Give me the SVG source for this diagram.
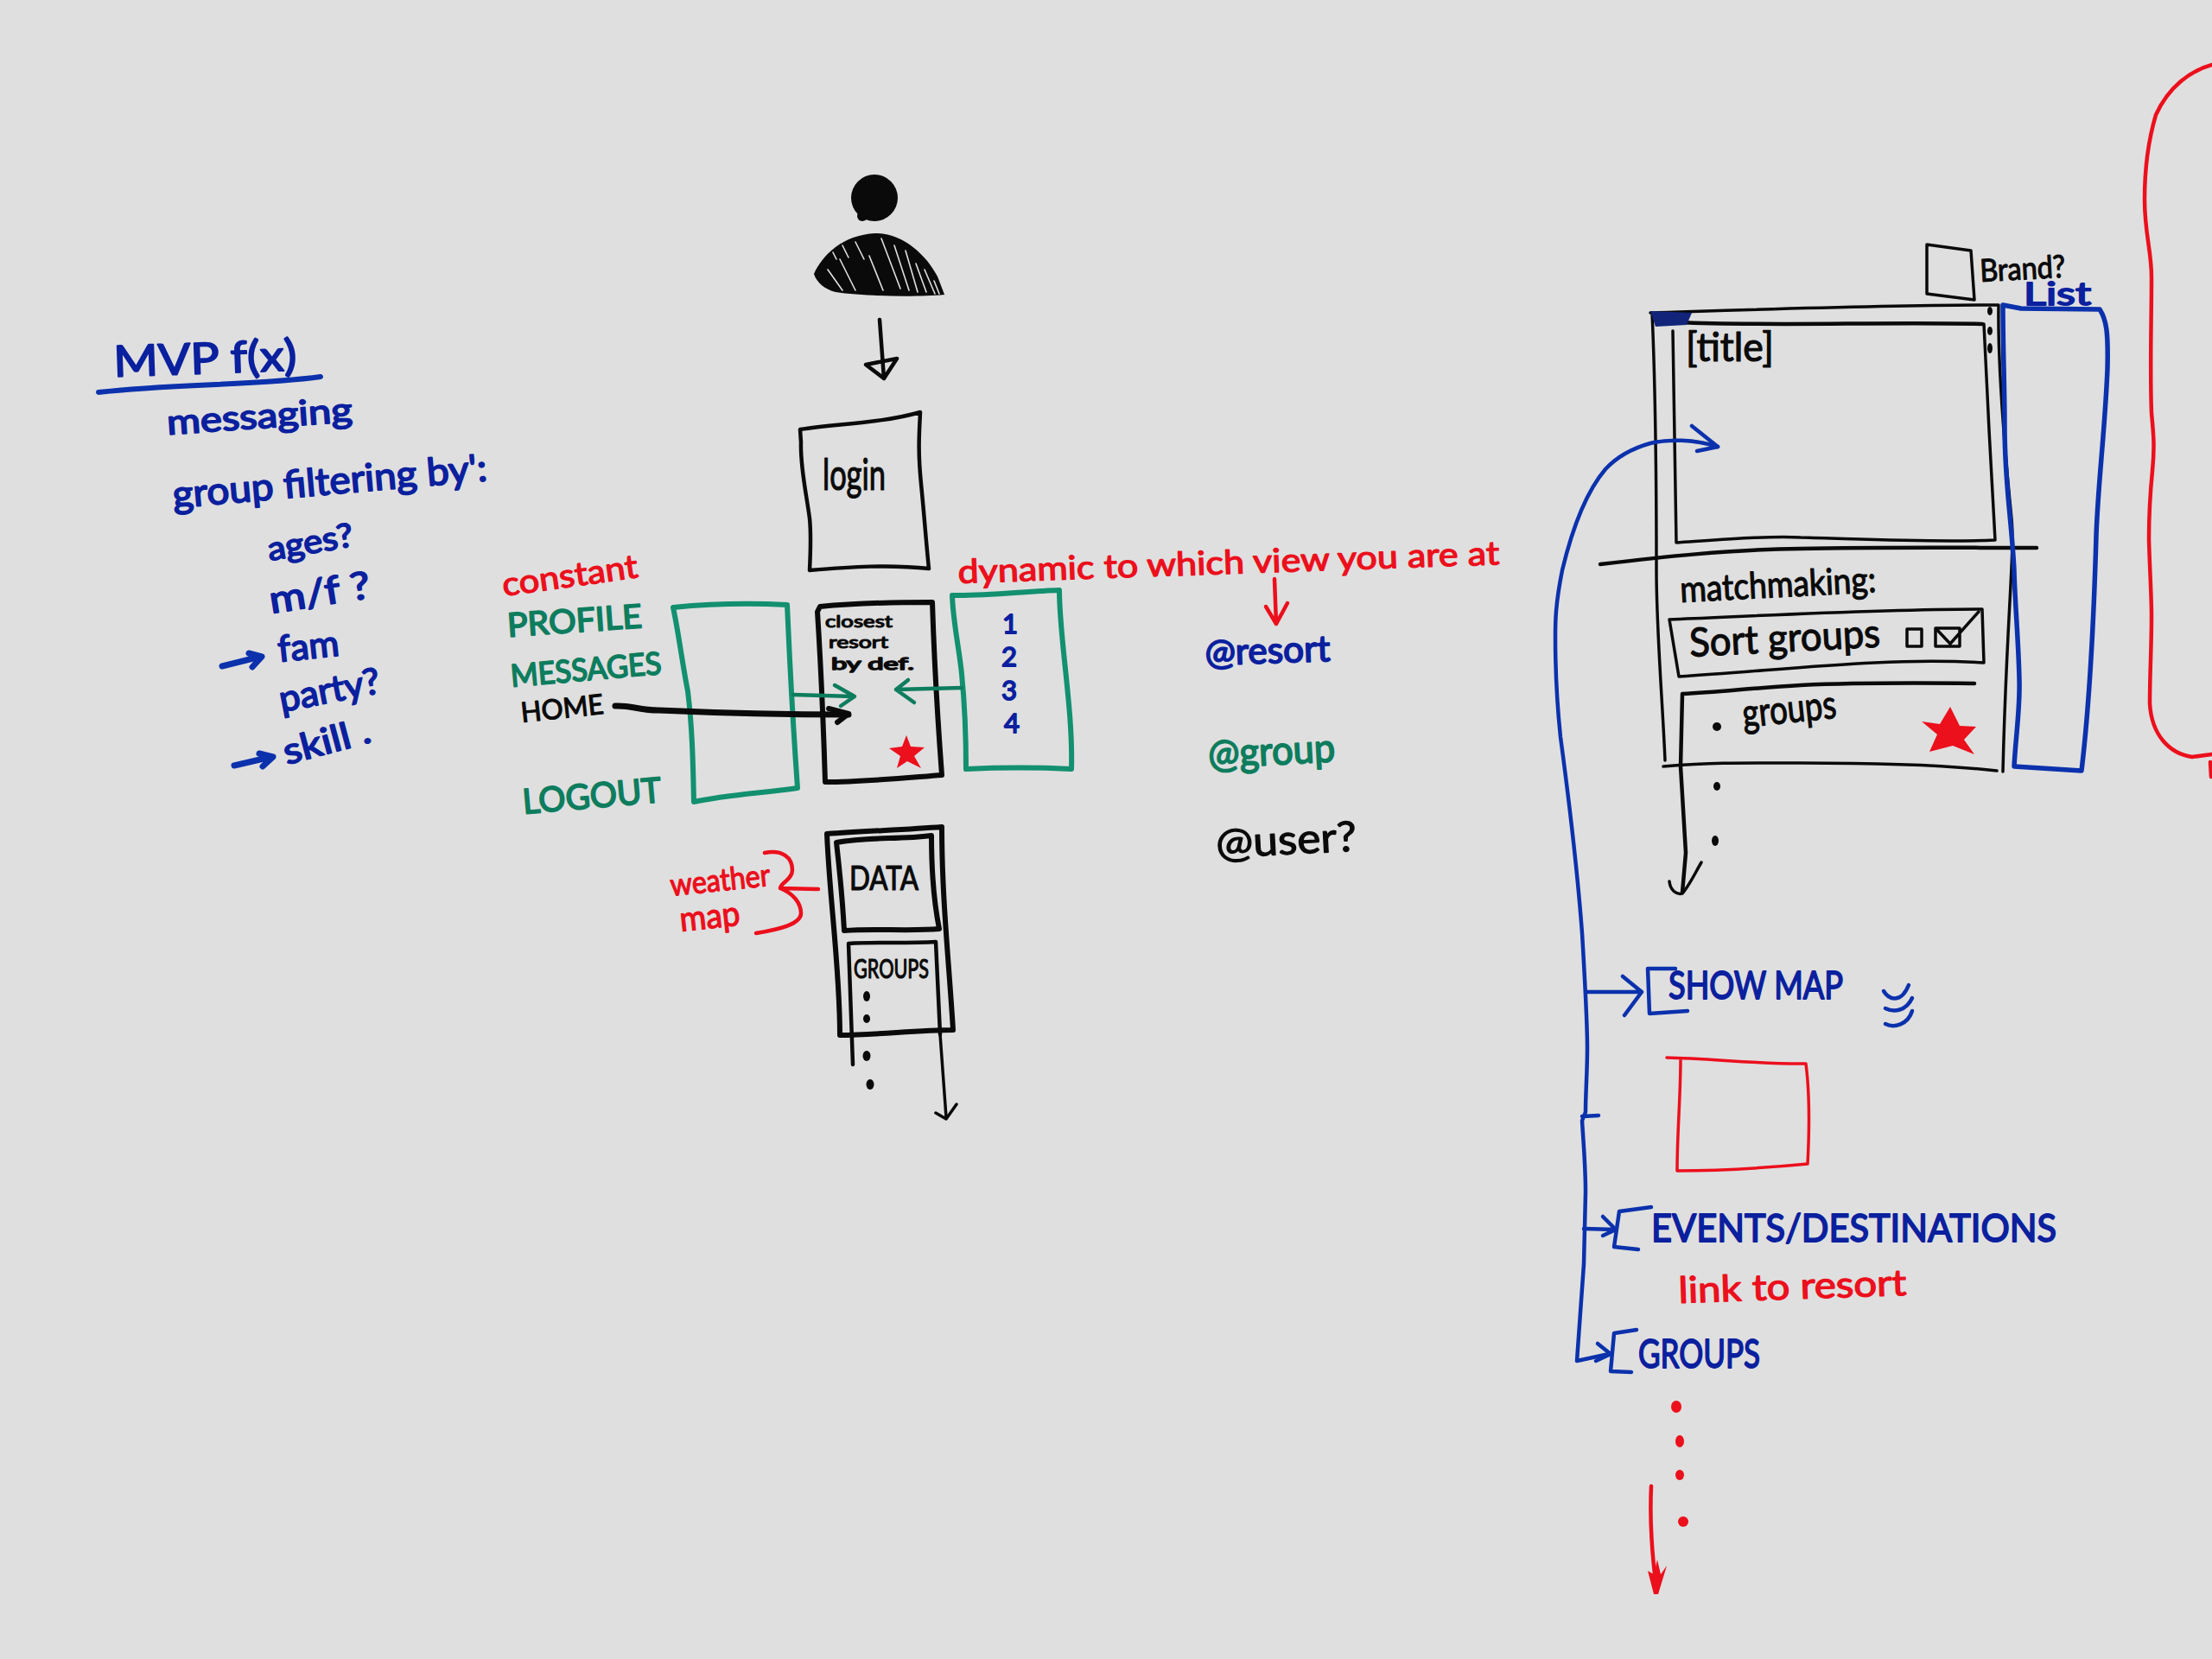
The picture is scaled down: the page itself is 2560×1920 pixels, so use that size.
<svg xmlns="http://www.w3.org/2000/svg" width="2560" height="1920" viewBox="0 0 2560 1920">
<style>
.s{fill:none;stroke-linecap:round;stroke-linejoin:round}
.k{stroke:#0a0a0a}.b{stroke:#0b31ac}.r{stroke:#ec0f1c}.g{stroke:#0d7d5e}.t{stroke:#12906f}
.w2{stroke-width:2.5}.w3{stroke-width:3.5}.w4{stroke-width:4.5}.w5{stroke-width:6}.w6{stroke-width:7}
text{font-family:"Lato","Open Sans","Liberation Sans",sans-serif;stroke-linejoin:round}
.tk{fill:#0a0a0a;stroke:#0a0a0a;stroke-width:1.2}
.tb{fill:#0a209e;stroke:#0a209e;stroke-width:1.8}
.tr{fill:#ec0f1c;stroke:#ec0f1c;stroke-width:1.3}
.tg{fill:#0d7d5e;stroke:#0d7d5e;stroke-width:1.8}
.fk{fill:#0a0a0a}.fr{fill:#ec0f1c}.fb{fill:#0b2aa8}
</style>
<rect width="2560" height="1920" fill="#dfdfdf"/>

<g id="mvp-list">
<text class="tb" x="132" y="436" font-size="50" transform="rotate(-2 132 436)" textLength="212" lengthAdjust="spacingAndGlyphs">MVP f(x)</text>
<path class="s b w5" d="M114 454C200 444 300 446 371 436"/>
<text class="tb" x="194" y="503" font-size="40" transform="rotate(-4 194 503)" textLength="215" lengthAdjust="spacingAndGlyphs">messaging</text>
<text class="tb" x="201" y="588" font-size="44" transform="rotate(-5 201 588)" textLength="365" lengthAdjust="spacingAndGlyphs">group filtering by':</text>
<text class="tb" x="312" y="649" font-size="38" transform="rotate(-10 312 649)" textLength="100" lengthAdjust="spacingAndGlyphs">ages?</text>
<text class="tb" x="314" y="710" font-size="44" transform="rotate(-9 314 710)" textLength="118" lengthAdjust="spacingAndGlyphs">m/f ?</text>
<text class="tb" x="323" y="766" font-size="42" transform="rotate(-6 323 766)" textLength="71" lengthAdjust="spacingAndGlyphs">fam</text>
<text class="tb" x="326" y="824" font-size="42" transform="rotate(-11 326 824)" textLength="118" lengthAdjust="spacingAndGlyphs">party?</text>
<text class="tb" x="332" y="885" font-size="42" transform="rotate(-15 332 885)" textLength="103" lengthAdjust="spacingAndGlyphs">skill .</text>
</g>

<g id="person">
<circle class="fk" cx="1012" cy="229" r="27"/>
<circle class="fk" cx="998" cy="250" r="6"/>
<path class="fk" d="M942 317C952 295 975 272 1013 270C1045 270 1072 295 1085 320L1095 346L1093 341C1060 344 1000 343 967 338C955 335 945 327 942 317Z"/>
<path class="s" stroke-width="1.6" stroke="#dfdfdf" d="M964 292L968 300M975 284L982 298M958 312L975 336M972 300L990 336M990 280L1000 300M1006 296L1022 336M1020 276L1042 334M1035 284L1052 336M1048 290L1062 338M1060 305L1072 338M1070 312L1082 340M1081 325L1087 340"/>
</g>

<g id="login">
<path class="s k w4" d="M926 497C970 490 1020 490 1065 477C1064 500 1062 520 1066 560C1070 600 1072 630 1075 658C1030 653 985 656 937 660C938 640 939 620 937 600C933 570 926 540 927 512Z"/>
<text class="tk" x="952" y="567" font-size="50" textLength="73" lengthAdjust="spacingAndGlyphs">login</text>
</g>

<g id="constant-nav">
<text class="tr" x="583" y="690" font-size="38" transform="rotate(-8 583 690)" textLength="158" lengthAdjust="spacingAndGlyphs">constant</text>
<text class="tg" x="588" y="737" font-size="38" transform="rotate(-4 588 737)" textLength="156" lengthAdjust="spacingAndGlyphs">PROFILE</text>
<text class="tg" x="592" y="795" font-size="36" transform="rotate(-5 592 795)" textLength="175" lengthAdjust="spacingAndGlyphs">MESSAGES</text>
<text class="tk" x="604" y="836" font-size="32" transform="rotate(-6 604 836)" textLength="96" lengthAdjust="spacingAndGlyphs">HOME</text>
<text class="tg" x="606" y="942" font-size="40" transform="rotate(-5 606 942)" textLength="161" lengthAdjust="spacingAndGlyphs">LOGOUT</text>
<path class="s t w5" d="M779 703C820 699 870 698 911 700C913 740 915 800 923 912C880 918 840 920 803 928C802 880 801 840 796 800C790 770 785 730 779 703Z"/>
</g>

<g id="home-screen">
<path class="s k w5" d="M946 708L949 702C990 698 1040 697 1079 697C1081 760 1085 830 1090 897C1050 900 1000 905 955 905C953 840 950 770 946 708Z"/>
<text class="tk" x="955" y="726" font-size="20" textLength="78" lengthAdjust="spacingAndGlyphs">closest</text>
<text class="tk" x="959" y="750" font-size="20" textLength="69" lengthAdjust="spacingAndGlyphs">resort</text>
<text class="tk" x="962" y="775" font-size="20" textLength="96" lengthAdjust="spacingAndGlyphs" style="stroke-width:1.6">by def.</text>
<polygon class="fr" points="1049,851 1054,864 1070,865 1058,875 1066,889 1050,881 1038,889 1042,875 1029,866 1044,864"/>
</g>

<g id="dynamic-nav">
<text class="tr" x="1109" y="675" font-size="38" transform="rotate(-2 1109 675)" textLength="627" lengthAdjust="spacingAndGlyphs">dynamic to which view you are at</text>
<path class="s t w5" d="M1102 689C1140 690 1190 684 1226 683C1226 740 1242 820 1240 890C1200 888 1160 888 1118 890C1118 860 1116 810 1113 780C1110 750 1103 720 1102 689Z"/>
<text class="tb" x="1160" y="733" font-size="31">1</text>
<text class="tb" x="1159" y="771" font-size="31">2</text>
<text class="tb" x="1159" y="810" font-size="31">3</text>
<text class="tb" x="1162" y="848" font-size="31">4</text>
</g>

<g id="view-list">
<text class="tb" x="1395" y="770" font-size="42" transform="rotate(-2 1395 770)" textLength="145" lengthAdjust="spacingAndGlyphs">@resort</text>
<text class="tg" x="1399" y="889" font-size="46" transform="rotate(-3 1399 889)" textLength="147" lengthAdjust="spacingAndGlyphs">@group</text>
<text class="tk" x="1408" y="993" font-size="48" transform="rotate(-3 1408 993)" textLength="163" lengthAdjust="spacingAndGlyphs">@user?</text>
</g>

<g id="detail-screen">
<path class="s k w5" d="M957 965C1000 962 1050 960 1090 957C1090 1040 1098 1110 1103 1192C1060 1192 1015 1198 972 1198C972 1120 960 1040 957 965Z"/>
<path class="s k w5" d="M968 975C1005 968 1040 972 1078 967C1078 1000 1080 1040 1087 1075C1050 1078 1010 1074 977 1077C975 1040 972 1010 968 975Z"/>
<text class="tk" x="983" y="1030" font-size="38" textLength="80" lengthAdjust="spacingAndGlyphs">DATA</text>
<path class="s k w4" d="M987 1232L982 1092C1015 1090 1050 1092 1083 1090L1088 1197"/>
<text class="tk" x="988" y="1132" font-size="30" textLength="87" lengthAdjust="spacingAndGlyphs">GROUPS</text>
<ellipse class="fk" cx="1003" cy="1153" rx="4" ry="6"/>
<ellipse class="fk" cx="1003" cy="1179" rx="4" ry="5"/>
<ellipse class="fk" cx="1003" cy="1222" rx="4.5" ry="6"/>
<ellipse class="fk" cx="1007" cy="1255" rx="4.5" ry="6"/>
<text class="tr" x="777" y="1037" font-size="36" transform="rotate(-6 777 1037)" textLength="116" lengthAdjust="spacingAndGlyphs">weather</text>
<text class="tr" x="788" y="1078" font-size="40" transform="rotate(-6 788 1078)" textLength="70" lengthAdjust="spacingAndGlyphs">map</text>
<path class="s r w4" d="M885 987C905 983 917 992 917 1007C917 1018 903 1022 903 1028L947 1029M903 1028C918 1034 927 1045 927 1057C927 1070 900 1076 875 1080"/>
</g>

<g id="brand">
<path class="s k w3" d="M2230 283L2281 290L2285 347L2230 340Z"/>
<text class="tk" x="2292" y="326" font-size="36" transform="rotate(-3 2292 326)" textLength="99" lengthAdjust="spacingAndGlyphs">Brand?</text>
</g>

<g id="main-screen">
<path class="s k w3" d="M1910 362C2040 358 2180 353 2313 353C2312 420 2320 520 2328 600C2332 640 2322 720 2318 893"/>
<path class="s k w3" d="M1912 362C1916 450 1917 560 1917 660C1917 730 1924 810 1927 880"/>
<path class="s k w3" d="M1925 887C1990 882 2020 883 2084 883C2160 883 2240 884 2311 892"/>
<path class="s k w4" d="M1940 373C2060 378 2180 372 2294 375"/>
<path class="s k w3" d="M1936 383L1940 628C2000 624 2050 620 2084 622C2160 624 2240 628 2309 625C2304 540 2300 460 2296 375"/>
<path d="M1910 360L1958 362L1952 376L1916 378Z" fill="#12247a"/>
<ellipse class="fk" cx="2303" cy="360" rx="3" ry="5"/>
<ellipse class="fk" cx="2303" cy="383" rx="3" ry="5"/>
<ellipse class="fk" cx="2303" cy="403" rx="3" ry="6"/>
<text class="tk" x="1951" y="418" font-size="46" textLength="102" lengthAdjust="spacingAndGlyphs">[title]</text>
<path class="s k w4" d="M1852 653C1920 645 2000 636 2084 635C2180 633 2270 634 2357 634"/>
<text class="tk" x="1945" y="697" font-size="42" transform="rotate(-3 1945 697)" textLength="227" lengthAdjust="spacingAndGlyphs">matchmaking:</text>
<path class="s k w3" d="M1932 717C2050 712 2180 705 2294 705L2296 767C2180 760 2060 776 1943 783Z"/>
<text class="tk" x="1956" y="760" font-size="46" transform="rotate(-3 1956 760)" textLength="221" lengthAdjust="spacingAndGlyphs">Sort groups</text>
<path class="s k w3" d="M2207 728H2224V748H2207Z"/>
<path class="s k w3" d="M2240 727H2268V748H2240ZM2240 727L2257 745L2290 708"/>
<path class="s k w4" d="M2285 791C2200 790 2150 790 2084 793C2030 796 1990 801 1947 803L1945 887L1951 987L1947 1033"/>
<path class="s k w3" d="M1932 1020C1933 1030 1940 1036 1947 1034C1955 1025 1962 1010 1969 998"/>
<circle class="fk" cx="1987" cy="841" r="5"/>
<text class="tk" x="2018" y="842" font-size="46" transform="rotate(-6 2018 842)" textLength="109" lengthAdjust="spacingAndGlyphs">groups</text>
<polygon class="fr" points="2257,818 2268,840 2287,841 2273,856 2285,873 2260,863 2233,870 2242,850 2224,835 2245,838"/>
<ellipse class="fk" cx="1987" cy="910" rx="4" ry="5"/>
<ellipse class="fk" cx="1985" cy="973" rx="4" ry="6"/>
</g>

<g id="list-panel">
<path class="s b" stroke-width="5.5" d="M2318 353L2339 357L2430 358C2438 370 2440 385 2439 427C2436 500 2428 560 2426 620C2424 690 2420 800 2409 892L2331 887C2333 850 2338 820 2337 787C2336 740 2332 700 2331 660C2328 600 2320 560 2320 493C2320 450 2318 400 2318 353Z"/>
<text class="tb" x="2342" y="353" font-size="36" textLength="78" lengthAdjust="spacingAndGlyphs">List</text>
</g>

<g id="show-map">
<path class="s b w4" d="M1939 1121L1907 1121L1909 1173L1953 1170"/>
<text class="tb" x="1931" y="1156" font-size="44" textLength="202" lengthAdjust="spacingAndGlyphs">SHOW MAP</text>
<path class="s b w4" d="M2180 1147C2186 1157 2200 1162 2209 1140M2182 1167C2192 1172 2206 1170 2213 1155M2182 1185C2192 1190 2208 1186 2213 1170"/>
<path class="s r w3" d="M1929 1224C1980 1225 2040 1232 2090 1231C2095 1270 2094 1310 2092 1347C2040 1352 1990 1355 1941 1355C1941 1310 1945 1270 1945 1225"/>
</g>

<g id="events">
<path class="s b w4" d="M1911 1397L1874 1402L1868 1443L1896 1446"/>
<text class="tb" x="1911" y="1437" font-size="44" textLength="469" lengthAdjust="spacingAndGlyphs">EVENTS/DESTINATIONS</text>
<text class="tr" x="1943" y="1508" font-size="42" transform="rotate(-2 1943 1508)" textLength="264" lengthAdjust="spacingAndGlyphs">link to resort</text>
</g>

<g id="groups">
<path class="s b w4" d="M1894 1539L1868 1543L1864 1587L1888 1588"/>
<text class="tb" x="1896" y="1583" font-size="46" textLength="141" lengthAdjust="spacingAndGlyphs">GROUPS</text>
<ellipse class="fr" cx="1940" cy="1628" rx="6" ry="7"/>
<ellipse class="fr" cx="1944" cy="1668" rx="5" ry="7"/>
<ellipse class="fr" cx="1944" cy="1707" rx="5" ry="6"/>
<ellipse class="fr" cx="1948" cy="1761" rx="6" ry="6"/>
</g>

<g id="right-outline">
<path class="s r w4" d="M2560 75C2535 82 2510 100 2495 133C2487 160 2482 195 2482 231C2482 270 2490 290 2490 321C2490 370 2488 430 2490 478C2492 500 2494 515 2491 545C2488 575 2487 600 2487 624C2488 660 2490 690 2490 713C2490 750 2488 780 2488 814C2490 850 2510 872 2537 876L2560 873"/>
<path class="s r w4" d="M2558 882L2559 899"/>
</g>

<g id="connectors">
<path class="s k w4" d="M1018 370L1023 438M1002 422L1023 438L1038 415Z"/>
<path class="s g w4" d="M918 804L987 806M966 793L989 806L973 817"/>
<path class="s g w4" d="M1113 796L1037 798M1051 787L1037 798L1058 813"/>
<path class="s k w6" d="M712 817C730 816 740 822 762 822C830 825 910 827 982 827"/>
<path class="s k w5" d="M959 820L982 826L969 836"/>
<path class="s k w3" d="M1088 1197L1095 1293M1083 1288L1095 1295L1107 1278"/>
<path class="s r w4" d="M1475 670L1477 722M1465 702L1477 722L1490 698"/>
<path class="s b w6" d="M257 771L301 760M288 756L303 760L292 772"/>
<path class="s b w6" d="M271 886L314 876M300 872L316 876L304 887"/>
<path class="s b w4" d="M1988 517C1960 508 1930 508 1910 513C1885 520 1870 530 1858 543C1835 570 1820 610 1808 660C1800 700 1800 720 1800 737C1800 780 1802 815 1806 853C1815 920 1825 1000 1831 1080C1834 1130 1837 1180 1837 1213C1837 1240 1835 1265 1835 1287L1831 1297C1833 1330 1835 1350 1835 1380L1833 1463L1825 1575L1862 1567"/>
<path class="s b w4" d="M1958 493L1988 517L1964 522"/>
<path class="s b w4" d="M1835 1148H1900M1878 1130L1900 1148L1880 1175M1831 1292L1850 1291"/>
<path class="s b w4" d="M1833 1422L1870 1423M1855 1408L1870 1423L1855 1430"/>
<path class="s b w4" d="M1849 1555L1864 1567L1847 1575"/>
<path class="s r w4" d="M1911 1720C1909 1760 1912 1800 1917 1838"/>
<path class="fr" d="M1907 1818L1914 1822L1918 1805L1922 1822L1929 1812L1919 1845L1914 1845Z"/>
</g>
</svg>
